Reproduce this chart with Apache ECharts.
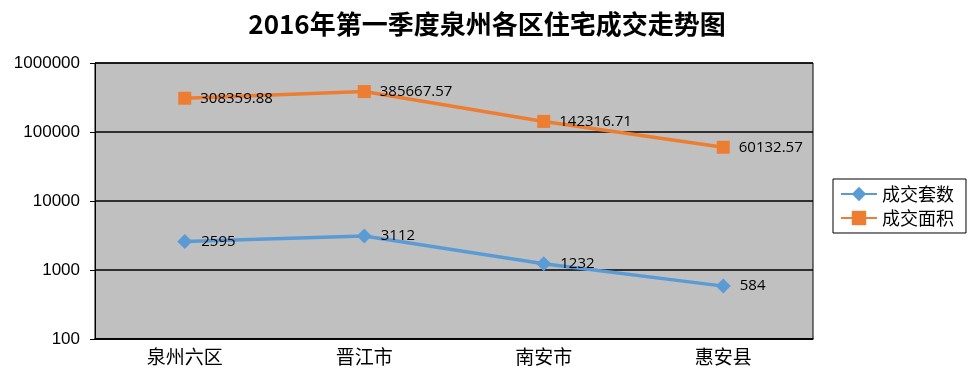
<!DOCTYPE html>
<html><head><meta charset="utf-8">
<script src="https://cdn.jsdelivr.net/npm/echarts@6/dist/echarts.min.js"></script>
<style>html,body{margin:0;padding:0;background:#fff}#c{width:974px;height:391px}</style>
</head><body><div id="c"></div>
<script>
const categories = ['泉州六区', '晋江市', '南安市', '惠安县'];
const unitsSold = [2595, 3112, 1232, 584];
const areaSold = [308359.88, 385667.57, 142316.71, 60132.57];
const seriesNames = ['成交套数', '成交面积'];
const titleText = '2016年第一季度泉州各区住宅成交走势图';

const chart = echarts.init(document.getElementById('c'), null, {renderer: 'canvas'});
const labelStyle = {show: true, position: 'right', distance: 9, color: '#000', fontSize: 15, fontFamily: 'Open Sans, sans-serif'};
chart.setOption({
  animation: false,
  backgroundColor: '#fff',
  title: {text: titleText, left: 'center', top: 6,
    textStyle: {fontFamily: 'Noto Sans CJK SC', fontSize: 26, fontWeight: 'bold', color: '#000'}},
  grid: {left: 95, right: 161, top: 63, bottom: 52, show: true, backgroundColor: '#c0c0c0', borderColor: '#000', borderWidth: 1},
  legend: {orient: 'vertical', left: 833, top: 179, itemGap: 6, itemWidth: 36, itemHeight: 18,
    backgroundColor: '#fff', borderColor: '#000', borderWidth: 1, padding: [6, 12, 6, 7],
    textStyle: {fontFamily: 'Noto Sans CJK SC', fontSize: 18, color: '#000'},
    data: seriesNames},
  xAxis: {type: 'category', data: categories, boundaryGap: true,
    axisLine: {lineStyle: {color: '#000', width: 1.5}},
    axisTick: {inside: true, length: 6, lineStyle: {color: '#000'}},
    axisLabel: {margin: 8, color: '#000', fontSize: 19, fontFamily: 'Noto Sans CJK SC'}},
  yAxis: {type: 'log', logBase: 10, min: 100, max: 1000000,
    axisLine: {show: true, lineStyle: {color: '#000'}},
    axisTick: {show: true, length: 5, lineStyle: {color: '#000'}},
    splitLine: {show: true, lineStyle: {color: '#000', width: 1.5}},
    axisLabel: {margin: 15, color: '#000', fontSize: 17, fontFamily: 'Liberation Sans',
      formatter: v => String(Math.round(v))}},
  series: [
    {name: seriesNames[0], type: 'line', data: unitsSold, symbol: 'diamond', symbolSize: 15,
      itemStyle: {color: '#5b9bd5'}, lineStyle: {color: '#5b9bd5', width: 3.5}, label: labelStyle},
    {name: seriesNames[1], type: 'line', data: areaSold, symbol: 'rect', symbolSize: 13,
      itemStyle: {color: '#ed7d31'}, lineStyle: {color: '#ed7d31', width: 3.5}, label: labelStyle}
  ]
});
</script></body></html>
